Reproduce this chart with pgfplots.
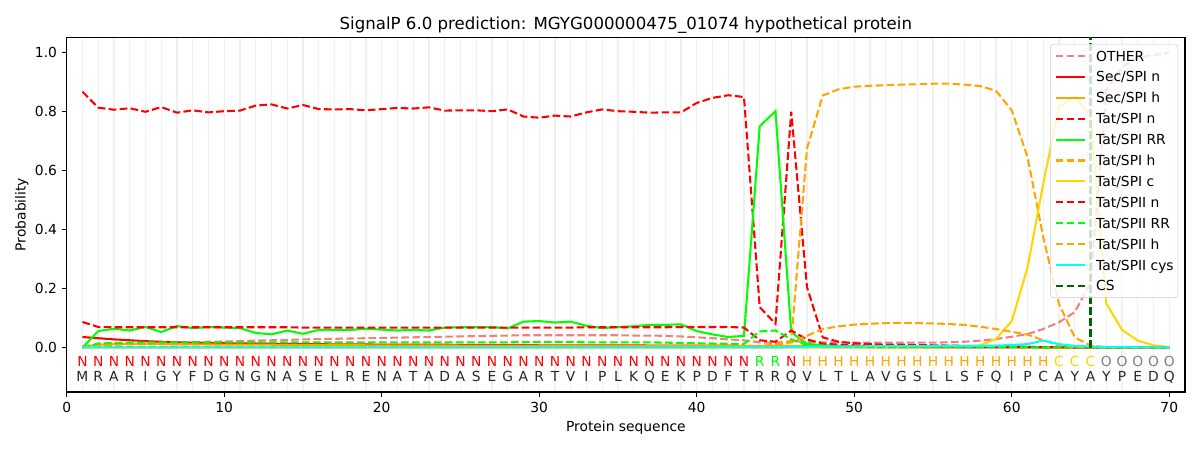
\documentclass[border=0pt]{standalone}
\usepackage{pgfplots}
\pgfplotsset{compat=1.18}
\usepackage{pgfplotstable}
\usepackage{fontspec}
\setmainfont{DejaVu Sans}
\definecolor{lcoral}{HTML}{F08080}
\definecolor{cred}{HTML}{FF0000}
\definecolor{corange}{HTML}{FFA500}
\definecolor{clime}{HTML}{00FF00}
\definecolor{cgold}{HTML}{FFD700}
\definecolor{ccyan}{HTML}{00FFFF}
\definecolor{cdkgreen}{HTML}{006400}
\definecolor{cgray}{HTML}{808080}

\pgfplotstableread{
x other secn sech tsn tsrr tsh tsc t2n t2rr t2h t2cys
1 0.005 0.036 0.004 0.866 0.000 0.003 0.000 0.087 0.000 0.002 0.001
2 0.008 0.032 0.010 0.812 0.056 0.003 0.000 0.070 0.014 0.002 0.001
3 0.010 0.028 0.012 0.805 0.064 0.003 0.000 0.069 0.016 0.002 0.001
4 0.012 0.025 0.012 0.810 0.058 0.003 0.000 0.069 0.017 0.002 0.001
5 0.014 0.022 0.012 0.798 0.070 0.003 0.000 0.069 0.018 0.002 0.001
6 0.016 0.020 0.012 0.814 0.053 0.003 0.000 0.069 0.018 0.002 0.001
7 0.018 0.018 0.011 0.795 0.073 0.003 0.000 0.069 0.018 0.002 0.001
8 0.019 0.017 0.011 0.803 0.066 0.003 0.000 0.069 0.018 0.002 0.001
9 0.020 0.016 0.011 0.796 0.070 0.003 0.000 0.069 0.018 0.002 0.001
10 0.021 0.015 0.010 0.800 0.068 0.003 0.000 0.069 0.018 0.002 0.001
11 0.022 0.014 0.010 0.802 0.066 0.003 0.000 0.069 0.018 0.002 0.001
12 0.024 0.014 0.010 0.819 0.050 0.003 0.000 0.069 0.018 0.002 0.001
13 0.025 0.013 0.010 0.823 0.045 0.003 0.000 0.069 0.018 0.002 0.001
14 0.026 0.013 0.009 0.809 0.058 0.003 0.000 0.069 0.018 0.002 0.001
15 0.028 0.012 0.009 0.821 0.047 0.003 0.000 0.068 0.018 0.002 0.001
16 0.029 0.012 0.009 0.807 0.060 0.003 0.000 0.068 0.018 0.002 0.001
17 0.030 0.011 0.009 0.806 0.060 0.003 0.000 0.068 0.018 0.002 0.001
18 0.031 0.011 0.009 0.807 0.060 0.003 0.000 0.068 0.018 0.002 0.001
19 0.032 0.011 0.008 0.803 0.064 0.003 0.000 0.068 0.018 0.002 0.001
20 0.033 0.010 0.008 0.807 0.061 0.003 0.000 0.068 0.018 0.002 0.001
21 0.034 0.010 0.008 0.811 0.058 0.003 0.000 0.068 0.018 0.002 0.001
22 0.035 0.010 0.008 0.809 0.060 0.003 0.000 0.068 0.018 0.002 0.001
23 0.036 0.010 0.008 0.813 0.058 0.003 0.000 0.068 0.018 0.002 0.001
24 0.037 0.010 0.008 0.802 0.068 0.003 0.000 0.068 0.018 0.002 0.001
25 0.038 0.009 0.007 0.803 0.069 0.003 0.000 0.068 0.018 0.002 0.001
26 0.039 0.009 0.007 0.803 0.069 0.003 0.000 0.068 0.018 0.002 0.001
27 0.040 0.009 0.007 0.800 0.070 0.003 0.000 0.068 0.018 0.002 0.001
28 0.041 0.009 0.007 0.806 0.065 0.003 0.000 0.068 0.018 0.002 0.001
29 0.042 0.009 0.007 0.782 0.088 0.003 0.000 0.068 0.019 0.002 0.001
30 0.042 0.008 0.007 0.778 0.090 0.003 0.000 0.068 0.019 0.002 0.001
31 0.042 0.008 0.007 0.785 0.085 0.003 0.000 0.068 0.019 0.002 0.001
32 0.042 0.008 0.007 0.782 0.088 0.003 0.000 0.068 0.019 0.002 0.001
33 0.042 0.008 0.006 0.796 0.074 0.003 0.000 0.069 0.018 0.002 0.001
34 0.042 0.008 0.006 0.806 0.066 0.003 0.000 0.069 0.018 0.002 0.001
35 0.042 0.008 0.006 0.800 0.070 0.003 0.000 0.069 0.018 0.002 0.001
36 0.041 0.008 0.006 0.798 0.072 0.003 0.000 0.069 0.018 0.002 0.001
37 0.041 0.007 0.006 0.795 0.077 0.003 0.000 0.069 0.018 0.002 0.001
38 0.040 0.007 0.006 0.796 0.077 0.003 0.000 0.069 0.017 0.002 0.001
39 0.038 0.007 0.006 0.796 0.079 0.003 0.000 0.070 0.016 0.002 0.001
40 0.035 0.007 0.005 0.828 0.056 0.003 0.000 0.070 0.015 0.002 0.001
41 0.032 0.007 0.005 0.845 0.045 0.003 0.000 0.070 0.014 0.002 0.001
42 0.028 0.007 0.005 0.854 0.036 0.004 0.000 0.070 0.013 0.003 0.001
43 0.025 0.006 0.005 0.848 0.040 0.004 0.000 0.068 0.013 0.003 0.001
44 0.018 0.005 0.005 0.137 0.749 0.006 0.000 0.025 0.055 0.005 0.001
45 0.016 0.005 0.005 0.081 0.800 0.010 0.000 0.020 0.058 0.008 0.001
46 0.022 0.004 0.006 0.798 0.052 0.022 0.000 0.058 0.028 0.018 0.002
47 0.020 0.003 0.006 0.205 0.013 0.673 0.000 0.028 0.008 0.040 0.003
48 0.018 0.002 0.005 0.035 0.008 0.853 0.000 0.014 0.004 0.063 0.004
49 0.017 0.002 0.004 0.020 0.006 0.874 0.000 0.010 0.003 0.072 0.004
50 0.017 0.002 0.004 0.015 0.005 0.883 0.000 0.008 0.003 0.078 0.004
51 0.017 0.001 0.004 0.012 0.004 0.886 0.000 0.007 0.003 0.081 0.005
52 0.017 0.001 0.003 0.010 0.004 0.888 0.000 0.006 0.002 0.083 0.005
53 0.017 0.001 0.003 0.010 0.003 0.890 0.000 0.005 0.002 0.083 0.005
54 0.017 0.001 0.003 0.009 0.003 0.891 0.000 0.005 0.002 0.083 0.005
55 0.017 0.001 0.003 0.008 0.003 0.893 0.001 0.004 0.002 0.082 0.006
56 0.018 0.001 0.003 0.007 0.003 0.893 0.001 0.004 0.002 0.080 0.006
57 0.020 0.001 0.003 0.006 0.002 0.890 0.003 0.004 0.002 0.077 0.006
58 0.024 0.001 0.003 0.005 0.002 0.885 0.008 0.003 0.002 0.071 0.006
59 0.029 0.001 0.002 0.004 0.002 0.869 0.029 0.003 0.002 0.063 0.007
60 0.037 0.001 0.002 0.003 0.002 0.803 0.090 0.003 0.002 0.054 0.009
61 0.046 0.001 0.002 0.003 0.002 0.645 0.270 0.002 0.001 0.044 0.012
62 0.063 0.001 0.002 0.002 0.001 0.374 0.555 0.002 0.001 0.025 0.024
63 0.086 0.001 0.001 0.002 0.001 0.148 0.815 0.002 0.001 0.008 0.012
64 0.120 0.001 0.001 0.001 0.001 0.035 0.849 0.001 0.001 0.002 0.006
65 0.220 0.000 0.001 0.001 0.001 0.007 0.786 0.001 0.001 0.001 0.004
66 0.870 0.000 0.000 0.001 0.000 0.002 0.150 0.001 0.000 0.000 0.002
67 0.950 0.000 0.000 0.000 0.000 0.001 0.060 0.000 0.000 0.000 0.002
68 0.980 0.000 0.000 0.000 0.000 0.000 0.024 0.000 0.000 0.000 0.001
69 0.990 0.000 0.000 0.000 0.000 0.000 0.008 0.000 0.000 0.000 0.001
70 0.998 0.000 0.000 0.000 0.000 0.000 0.002 0.000 0.000 0.000 0.001
}\probs

\pgfplotstableread{
x s
1 M
2 R
3 A
4 R
5 I
6 G
7 Y
8 F
9 D
10 G
11 N
12 G
13 N
14 A
15 S
16 E
17 L
18 R
19 E
20 N
21 A
22 T
23 A
24 D
25 A
26 S
27 E
28 G
29 A
30 R
31 T
32 V
33 I
34 P
35 L
36 K
37 Q
38 E
39 K
40 P
41 D
42 F
43 T
44 R
45 R
46 Q
47 V
48 L
49 T
50 L
51 A
52 V
53 G
54 S
55 L
56 L
57 S
58 F
59 Q
60 I
61 P
62 C
63 A
64 Y
65 A
66 Y
67 P
68 E
69 D
70 Q
}\seqtab

\pgfplotstableread{
x s
1 N
2 N
3 N
4 N
5 N
6 N
7 N
8 N
9 N
10 N
11 N
12 N
13 N
14 N
15 N
16 N
17 N
18 N
19 N
20 N
21 N
22 N
23 N
24 N
25 N
26 N
27 N
28 N
29 N
30 N
31 N
32 N
33 N
34 N
35 N
36 N
37 N
38 N
39 N
40 N
41 N
42 N
43 N
46 N
}\labN

\pgfplotstableread{
x s
44 R
45 R
}\labR

\pgfplotstableread{
x s
47 H
48 H
49 H
50 H
51 H
52 H
53 H
54 H
55 H
56 H
57 H
58 H
59 H
60 H
61 H
62 H
}\labH

\pgfplotstableread{
x s
63 C
64 C
65 C
}\labC

\pgfplotstableread{
x s
66 O
67 O
68 O
69 O
70 O
}\labO

\tikzset{
  mpldash/.style={dash pattern=on 5.55pt off 2.4pt},
}
\pgfplotsset{
  seqlab/.style={draw=none, forget plot, nodes near coords, point meta=explicit symbolic,
    nodes near coords style={anchor=base, inner sep=0pt, font=\fontsize{10}{12}\selectfont, text=#1}},
}

\begin{document}
\begin{tikzpicture}
\begin{axis}[
  name=ax,
  scale only axis,
  width=11.183in, height=3.547in,
  xmin=0, xmax=71, ymin=-0.15, ymax=1.05,
  xtick={0,10,20,30,40,50,60,70},
  ytick={0,0.2,0.4,0.6,0.8,1.0},
  minor xtick={1,2,...,70},
  minor tick length=0pt,
  xminorgrids=true,
  minor x grid style={black!6, line width=0.8pt},
  tick pos=left,
  tick align=outside,
  major tick length=3.5pt,
  every tick/.style={black, line width=0.8pt},
  axis line style={black, line width=0.8pt},
  /pgf/number format/assume math mode=true,
  ticklabel style={font=\fontsize{10}{12}\selectfont},
  yticklabel style={/pgf/number format/.cd, fixed, fixed zerofill, precision=1},
  xlabel={Protein sequence},
  ylabel={Probability},
  xlabel style={at={([yshift=-28.6pt]rel axis cs:0.5,0)}, anchor=base, font=\fontsize{10}{12}\selectfont, inner sep=0pt},
  ylabel style={at={([xshift=-29.6pt]rel axis cs:0,0.5)}, anchor=base, rotate=0, font=\fontsize{10}{12}\selectfont, inner sep=0pt},
  title={SignalP 6.0 prediction: MGYG000000475\_01074 hypothetical protein},
  title style={at={([yshift=-0.24pt]rel axis cs:0.5,1)}, anchor=base, font=\fontsize{12}{14}\selectfont, inner sep=0pt},
  legend cell align=left,
  legend image code/.code={\draw[#1] (0pt,0pt) -- (21pt,0pt);},
  legend style={at={(rel axis cs:1,1)}, anchor=north east, xshift=-5pt, yshift=-4.8pt,
    draw=black!20, rounded corners=2pt, fill=white, fill opacity=0.8, draw opacity=1, text opacity=1,
    font=\fontsize{10}{12}\selectfont, inner xsep=3pt, inner ysep=1pt, row sep=0pt,
    nodes={inner sep=0pt, text height=11.2pt, text depth=3.9pt},
    /tikz/every odd column/.append style={column sep=7.5pt}},
]
\addplot[lcoral, line width=1.5pt, mpldash] table[x=x, y=other] {\probs};
\addlegendentry{OTHER}
\addplot[cred, line width=1.5pt] table[x=x, y=secn] {\probs};
\addlegendentry{Sec/SPI n}
\addplot[corange, line width=1.5pt] table[x=x, y=sech] {\probs};
\addlegendentry{Sec/SPI h}
\addplot[cred, line width=1.5pt, mpldash] table[x=x, y=tsn] {\probs};
\addlegendentry{Tat/SPI n}
\addplot[clime, line width=1.5pt] table[x=x, y=tsrr] {\probs};
\addlegendentry{Tat/SPI RR}
\addplot[corange, line width=1.5pt, mpldash] table[x=x, y=tsh] {\probs};
\addlegendentry{Tat/SPI h}
\addplot[cgold, line width=1.5pt] table[x=x, y=tsc] {\probs};
\addlegendentry{Tat/SPI c}
\addplot[cred, line width=1.5pt, mpldash] table[x=x, y=t2n] {\probs};
\addlegendentry{Tat/SPII n}
\addplot[clime, line width=1.5pt, mpldash] table[x=x, y=t2rr] {\probs};
\addlegendentry{Tat/SPII RR}
\addplot[corange, line width=1.5pt, mpldash] table[x=x, y=t2h] {\probs};
\addlegendentry{Tat/SPII h}
\addplot[ccyan, line width=1.5pt] table[x=x, y=t2cys] {\probs};
\addlegendentry{Tat/SPII cys}
\addplot[cdkgreen, line width=1.5pt, mpldash] coordinates {(65,0) (65,1.05)};
\addlegendentry{CS}

\addplot[seqlab=cred] table[x=x, y expr=-0.0637, meta=s] {\labN};
\addplot[seqlab=clime] table[x=x, y expr=-0.0637, meta=s] {\labR};
\addplot[seqlab=corange] table[x=x, y expr=-0.0637, meta=s] {\labH};
\addplot[seqlab=cgold] table[x=x, y expr=-0.0637, meta=s] {\labC};
\addplot[seqlab=cgray] table[x=x, y expr=-0.0637, meta=s] {\labO};
\addplot[seqlab=black!85] table[x=x, y expr=-0.1156, meta=s] {\seqtab};
\end{axis}
\path ([shift={(-0.667in,-0.58in)}]ax.south west) rectangle ([shift={(0.15in,0.373in)}]ax.north east);
\end{tikzpicture}
\end{document}
